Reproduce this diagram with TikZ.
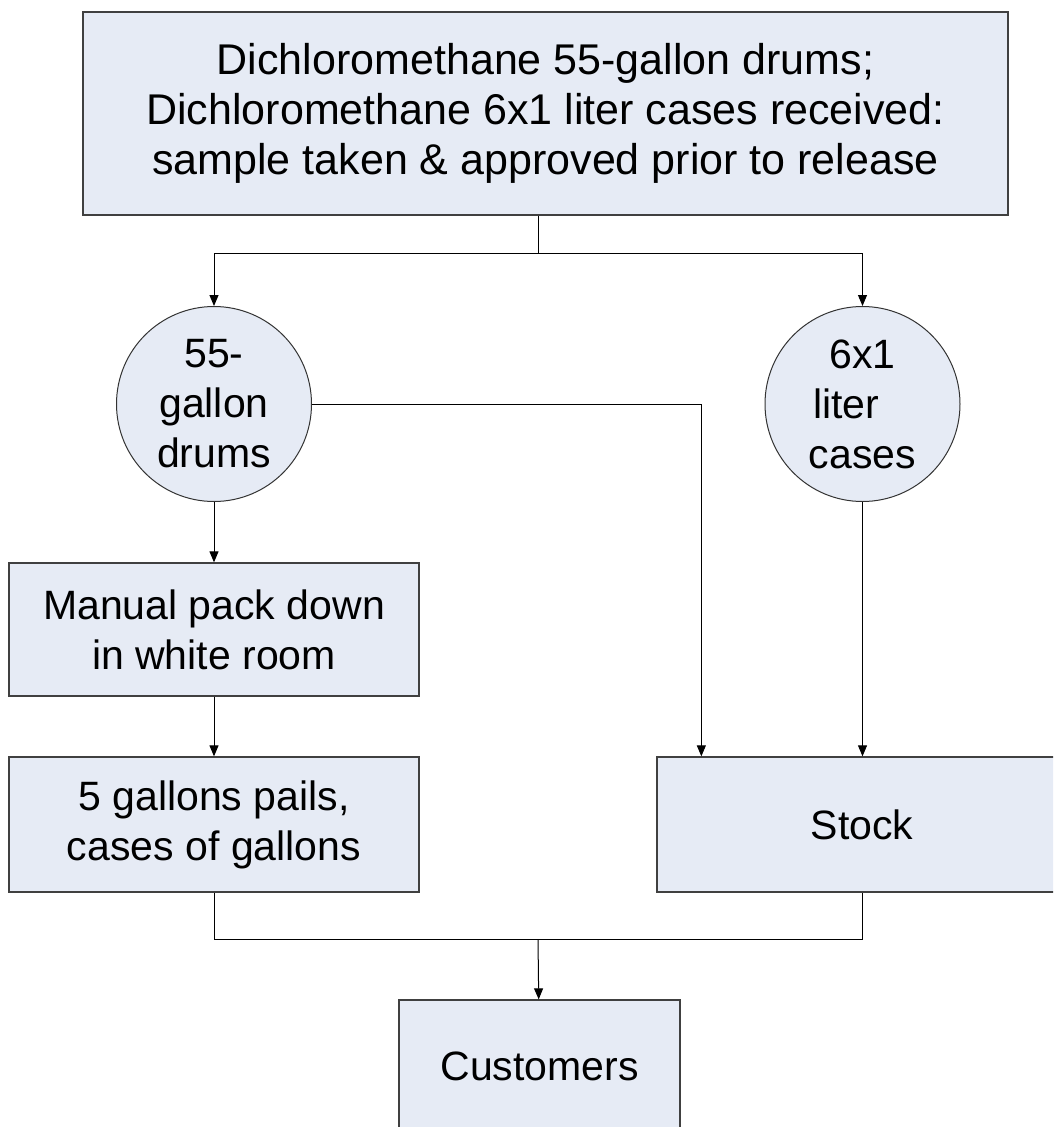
\documentclass[tikz,border=0pt]{standalone}
\usepackage{fontspec}
\setmainfont{Liberation Sans}
\usetikzlibrary{arrows.meta}
\definecolor{boxfill}{RGB}{230,235,245}

\begin{document}
\begin{tikzpicture}[x=1pt,y=-1pt,>={Triangle[length=11pt,width=9pt]},line width=1pt]
  \tikzstyle{every node}=[font=\fontsize{41}{50}\selectfont,align=center,inner sep=0pt]
  \tikzstyle{block}=[rectangle,draw=black!75,fill=boxfill,line width=1.3pt]
  \tikzstyle{stage}=[circle,draw=black!80,fill=boxfill,minimum size=195]

  \clip (0,0) rectangle (1053,1127);

  \node[block,minimum width=925,minimum height=203,font=\fontsize{43}{50}\selectfont] (recv) at (545.5,113.5)
    {Dichloromethane 55-gallon drums;\\Dichloromethane 6x1 liter cases received:\\sample taken \& approved prior to release};
  \node[stage] (drums) at (214,404) {55-\\gallon\\drums};
  \node[stage] (cases) at (862.5,404) {6x1\\\makebox[99pt][l]{liter}\\cases};
  \node[block,minimum width=410,minimum height=133] (packdown) at (214,629.5) {Manual pack down\\in white room};
  \node[block,minimum width=410,minimum height=135] (pails) at (214,824.5) {5 gallons pails,\\cases of gallons};
  \node[block,minimum width=410,minimum height=135] (stock) at (862,824.5) {Stock};
  \node[block,minimum width=281,minimum height=133] (customers) at (539.5,1066.5) {Customers};

  \coordinate (split) at (538,253);
  \coordinate (merge) at (538,939);

  \draw (split |- recv.south) -- (split);
  \draw[->] (split) -| (drums.north);
  \draw[->] (split) -| (cases.north);
  \draw[->] (drums.east) -| ([xshift=45]stock.north west);
  \draw[->] (drums) -- (packdown);
  \draw[->] (packdown) -- (pails);
  \draw[->] (cases) -- (cases |- stock.north);
  \draw (pails.south) |- (merge) -| (stock.south);
  \draw[->] (merge) -- (customers);
\end{tikzpicture}
\end{document}
